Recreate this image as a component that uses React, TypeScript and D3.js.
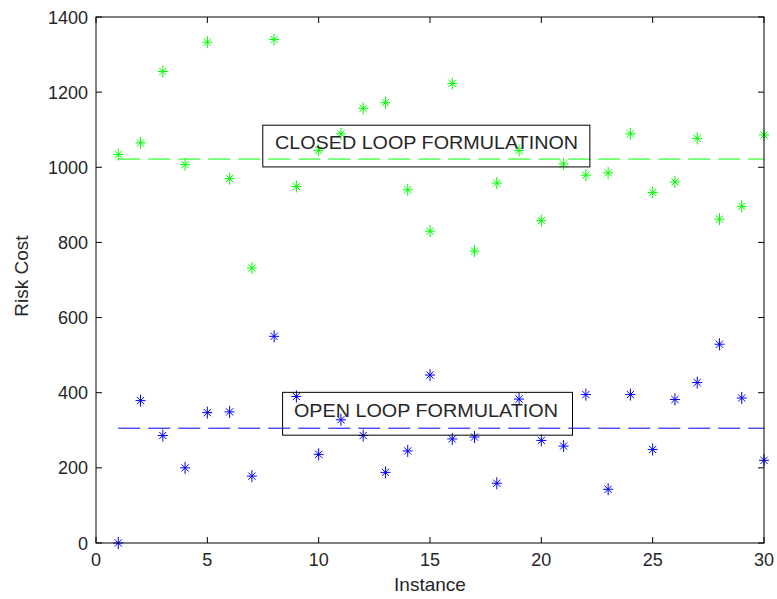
import React from 'react';
import * as d3 from 'd3';

// instance numbers 1..30
const instances: number[] = [
  1, 2, 3, 4, 5, 6, 7, 8, 9, 10, 11, 12, 13, 14, 15,
  16, 17, 18, 19, 20, 21, 22, 23, 24, 25, 26, 27, 28, 29, 30,
];

// risk cost, closed loop formulation (green)
const closedLoop: number[] = [
  1034, 1065, 1255, 1007, 1333, 970, 732, 1340, 949, 1045,
  1089, 1157, 1172, 940, 830, 1223, 777, 958, 1045, 858,
  1009, 979, 985, 1089, 933, 961, 1077, 862, 896, 1086,
];

// risk cost, open loop formulation (blue)
const openLoop: number[] = [
  0, 379, 286, 200, 347, 349, 178, 550, 390, 236,
  328, 286, 188, 245, 447, 277, 282, 159, 383, 273,
  258, 395, 143, 395, 249, 382, 427, 529, 386, 220,
];

const xTicks: number[] = [0, 5, 10, 15, 20, 25, 30];
const yTicks: number[] = [0, 200, 400, 600, 800, 1000, 1200, 1400];

// annotation boxes in data units: [x0, x1, yTop, yBottom], text anchor [x, y]
const closedLabel = 'CLOSED LOOP FORMULATINON';
const closedBox = [7.49, 22.18, 1112, 1001];
const closedText = [8.04, 1048];
const openLabel = 'OPEN LOOP FORMULATION';
const openBox = [8.38, 21.4, 401, 287];
const openText = [8.89, 335];

const W = 777;
const H = 599;
const margin = { left: 96, top: 17, right: 13, bottom: 56 };
const font = '"Liberation Sans", Arial, Helvetica, sans-serif';
const textColor = '#262626';

function Star({ x, y, color }: { x: number; y: number; color: string }) {
  const v = 6, h = 5, d = 3.6;
  return (
    <g stroke={color} strokeWidth={1}>
      <line x1={x} y1={y - v} x2={x} y2={y + v} />
      <line x1={x - h} y1={y} x2={x + h} y2={y} />
      <line x1={x - d} y1={y - d} x2={x + d} y2={y + d} />
      <line x1={x - d} y1={y + d} x2={x + d} y2={y - d} />
    </g>
  );
}

export default function App() {
  const x = d3.scaleLinear().domain([0, 30]).range([margin.left, W - margin.right]);
  const y = d3.scaleLinear().domain([0, 1400]).range([H - margin.bottom, margin.top]);
  const x0 = x.range()[0], x1 = x.range()[1];
  const y0 = y.range()[0], y1 = y.range()[1];
  const tickLen = 6;

  const closedMean = d3.mean(closedLoop) as number;
  const openMean = d3.mean(openLoop) as number;
  const first = d3.min(instances) as number;
  const last = d3.max(instances) as number;

  const box = (b: number[], t: number[], label: string, width: number) => (
    <g>
      <rect x={x(b[0])} y={y(b[2])} width={x(b[1]) - x(b[0])} height={y(b[3]) - y(b[2])}
        fill="none" stroke="#000" strokeWidth={1} />
      <text x={x(t[0])} y={y(t[1])} fontFamily={font} fontSize={19} fill={textColor}
        textLength={width} lengthAdjust="spacingAndGlyphs">{label}</text>
    </g>
  );

  return (
    <svg width={W} height={H} style={{ position: 'absolute', left: 0, top: 0, background: '#fff' }}>
      <rect x={0} y={0} width={W} height={H} fill="#fff" />

      {/* mean lines */}
      <line x1={x(first)} x2={x(last)} y1={y(closedMean)} y2={y(closedMean)}
        stroke="#00ff00" strokeWidth={1} strokeDasharray="22,8" />
      <line x1={x(first)} x2={x(last)} y1={y(openMean)} y2={y(openMean)}
        stroke="#0000ff" strokeWidth={1} strokeDasharray="22,8" />

      {instances.map((d, i) => (
        <Star key={'c' + i} x={x(d)} y={y(closedLoop[i])} color="#00ff00" />
      ))}
      {instances.map((d, i) => (
        <Star key={'o' + i} x={x(d)} y={y(openLoop[i])} color="#0000ff" />
      ))}

      {box(closedBox, closedText, closedLabel, 303)}
      {box(openBox, openText, openLabel, 264)}

      {/* axes box */}
      <rect x={x0} y={y1} width={x1 - x0} height={y0 - y1} fill="none" stroke="#000" strokeWidth={1} />

      {xTicks.map(t => (
        <g key={'xt' + t}>
          <line x1={x(t)} x2={x(t)} y1={y0} y2={y0 - tickLen} stroke="#000" />
          <line x1={x(t)} x2={x(t)} y1={y1} y2={y1 + tickLen} stroke="#000" />
          <text x={x(t)} y={y0 + 23} textAnchor="middle" fontFamily={font} fontSize={18} fill={textColor}>{t}</text>
        </g>
      ))}
      {yTicks.map(t => (
        <g key={'yt' + t}>
          <line x1={x0} x2={x0 + tickLen} y1={y(t)} y2={y(t)} stroke="#000" />
          <line x1={x1} x2={x1 - tickLen} y1={y(t)} y2={y(t)} stroke="#000" />
          <text x={x0 - 8} y={y(t) + 6.5} textAnchor="end" fontFamily={font} fontSize={18} fill={textColor}>{t}</text>
        </g>
      ))}

      <text x={(x0 + x1) / 2} y={591} textAnchor="middle" fontFamily={font} fontSize={19} fill={textColor}>Instance</text>
      <text transform={`translate(28,${(y0 + y1) / 2 - 4}) rotate(-90)`} textAnchor="middle"
        fontFamily={font} fontSize={19} fill={textColor}>Risk Cost</text>
    </svg>
  );
}
